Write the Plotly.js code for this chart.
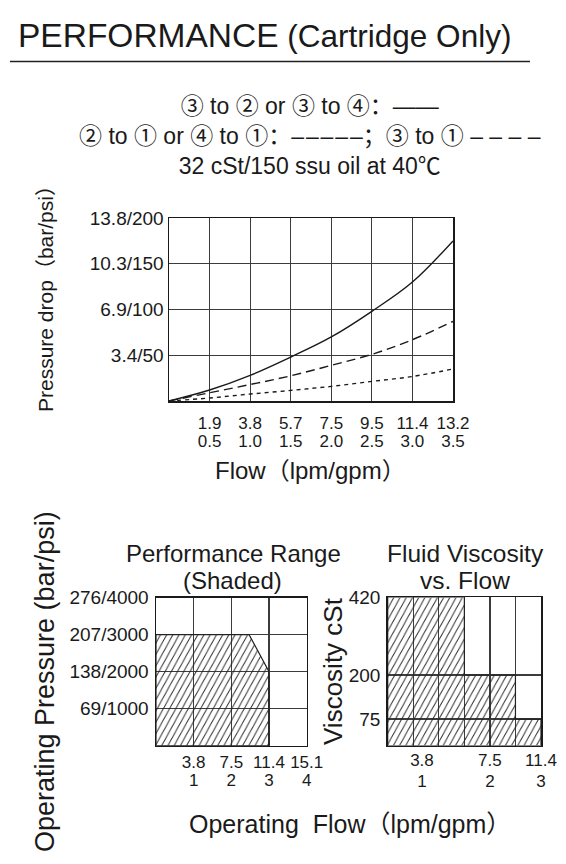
<!DOCTYPE html>
<html><head><meta charset="utf-8">
<script src="https://cdn.plot.ly/plotly-3.0.1.min.js"></script>
<style>html,body{margin:0;padding:0;background:#fff;}#chart{width:566px;height:864px;}</style>
</head><body><div id="chart"></div>
<script>
// ---------- data ----------
const flowGpm = [0, 0.5, 1.0, 1.5, 2.0, 2.5, 3.0, 3.5];
const dropSolid = [0, 12, 28, 48, 70, 98, 130, 175];          // 3 to 2 or 3 to 4
const dropLongDash = [0, 9, 18, 27.5, 39, 51, 67, 87];        // 2 to 1 or 4 to 1
const dropShortDash = [0, 3.3, 7.6, 11.6, 16, 21.4, 26.8, 35]; // 3 to 1
const topTickGpm = [0.5, 1.0, 1.5, 2.0, 2.5, 3.0, 3.5];
const topTickLpm = ['1.9', '3.8', '5.7', '7.5', '9.5', '11.4', '13.2'];
const topTickGpmText = ['0.5', '1.0', '1.5', '2.0', '2.5', '3.0', '3.5'];
const dropTickPsi = [50, 100, 150, 200];
const dropTickText = ['3.4/50', '6.9/100', '10.3/150', '13.8/200'];

const rangeFlowGpm = [0, 0, 2.47, 3, 3, 0];
const rangePressurePsi = [0, 3000, 3000, 2000, 0, 0];
const rangeTickGpm = [1, 2, 3, 4];
const rangeTickLpm = ['3.8', '7.5', '11.4', '15.1'];
const rangeTickGpmText = ['1', '2', '3', '4'];
const pressTickPsi = [1000, 2000, 3000, 4000];
const pressTickText = ['69/1000', '138/2000', '207/3000', '276/4000'];

const viscFlowGpm = [0, 0, 1.5, 1.5, 2.5, 2.5, 3, 3, 0];
const viscCst = [0, 420, 420, 200, 200, 75, 75, 0, 0];
const viscGridGpm = [0.5, 1, 1.5, 2, 2.5, 3];
const viscTickGpm = [0.67, 2, 3];
const viscTickLpm = ['3.8', '7.5', '11.4'];
const viscTickGpmText = ['1', '2', '3'];
const viscTickCst = [75, 200, 420];

// ---------- layout helpers ----------
const W = 566, H = 864;
const px = v => v / W;
const py = v => 1 - v / H;
const FONT = '"Liberation Sans", Arial, "DejaVu Sans", "Noto Sans CJK SC", sans-serif';
const INK = '#1a1a1a';
const GRID = '#3c3c3c';
const YTICK = 19, XTICK = 17;
const cj = s => '<span style="font-family:Noto Sans CJK SC">' + s + '</span>';

function gridAxis(dom, range, tickvals, ticktext, anchor, standoff, size, extra) {
  return Object.assign({
    domain: dom, range: range, anchor: anchor,
    tickmode: 'array', tickvals: tickvals, ticktext: ticktext, tickangle: 0,
    showgrid: true, gridcolor: GRID, gridwidth: 1.2,
    showline: true, linecolor: INK, linewidth: 1.5, mirror: true,
    zeroline: false, ticks: '', fixedrange: true,
    tickfont: {family: FONT, size: size, color: INK},
    ticklabelstandoff: standoff
  }, extra || {});
}
function labelAxis(over, range, tickvals, ticktext, anchor, standoff) {
  return {
    overlaying: over, range: range, anchor: anchor, side: 'bottom',
    tickmode: 'array', tickvals: tickvals, ticktext: ticktext, tickangle: 0,
    showgrid: false, showline: false, zeroline: false, ticks: '', fixedrange: true,
    tickfont: {family: FONT, size: XTICK, color: INK},
    ticklabelstandoff: standoff
  };
}
// empty carrier so that an overlaid label axis gets drawn
const carrier = (xs, xa, ya) => ({x: xs, y: xs.map(() => null), xaxis: xa, yaxis: ya, mode: 'lines',
  hoverinfo: 'skip', line: {width: 0}});

const hatch = {shape: '/', size: 8, solidity: 0.17, fgcolor: '#222', bgcolor: 'rgba(0,0,0,0)', fillmode: 'replace'};

const data = [
  {x: flowGpm, y: dropSolid, xaxis: 'x', yaxis: 'y', mode: 'lines', cliponaxis: false,
   line: {color: INK, width: 1.4, shape: 'spline'}, hoverinfo: 'skip'},
  {x: flowGpm, y: dropLongDash, xaxis: 'x', yaxis: 'y', mode: 'lines', cliponaxis: false,
   line: {color: INK, width: 1.4, shape: 'spline', dash: '9px,5px'}, hoverinfo: 'skip'},
  {x: flowGpm, y: dropShortDash, xaxis: 'x', yaxis: 'y', mode: 'lines', cliponaxis: false,
   line: {color: INK, width: 1.4, shape: 'spline', dash: '4px,4px'}, hoverinfo: 'skip'},
  {x: rangeFlowGpm, y: rangePressurePsi, xaxis: 'x3', yaxis: 'y2', mode: 'lines', fill: 'toself',
   fillcolor: 'rgba(0,0,0,0)', fillpattern: hatch, cliponaxis: false,
   line: {color: '#222', width: 1.2}, hoverinfo: 'skip'},
  {x: viscFlowGpm, y: viscCst, xaxis: 'x5', yaxis: 'y3', mode: 'lines', fill: 'toself',
   fillcolor: 'rgba(0,0,0,0)', fillpattern: hatch, cliponaxis: false,
   line: {color: '#222', width: 1.2}, hoverinfo: 'skip'},
  carrier(topTickGpm, 'x2', 'y'),
  carrier(rangeTickGpm, 'x4', 'y2'),
  carrier(viscTickGpm, 'x6', 'y3'),
  carrier(viscTickGpm, 'x7', 'y3')
];

const topX = [px(169), px(453)], topY = [py(401), py(218)];
const blX = [px(156), px(306.7)], blY = [py(745.7), py(597.6)];
const brX = [px(387.7), px(541)], brY = [py(745.5), py(597.4)];

const legendText =
  cj('③') + ' to ' + cj('②') + ' or ' + cj('③') + ' to ' + cj('④') + '：——<br>' +
  cj('②') + ' to ' + cj('①') + ' or ' + cj('④') + ' to ' + cj('①') + '：–\u200A–\u200A–\u200A–\u200A–；' +
  cj('③') + ' to ' + cj('①') + ' –\u00A0–\u00A0–\u00A0–<br>' +
  '32 cSt/150 ssu oil at 40' + cj('℃');

const layout = {
  width: W, height: H, margin: {l: 0, r: 0, t: 0, b: 0},
  paper_bgcolor: '#fff', plot_bgcolor: 'rgba(0,0,0,0)', showlegend: false,
  font: {family: FONT, color: INK},
  xaxis: gridAxis(topX, [0, 3.5], topTickGpm, topTickLpm, 'y', 6, XTICK),
  xaxis2: labelAxis('x', [0, 3.5], topTickGpm, topTickGpmText, 'y', 28),
  yaxis: gridAxis(topY, [0, 200], dropTickPsi, dropTickText, 'x', 0, YTICK),
  xaxis3: gridAxis(blX, [0, 4], rangeTickGpm, rangeTickLpm, 'y2', 0, XTICK),
  xaxis4: labelAxis('x3', [0, 4], rangeTickGpm, rangeTickGpmText, 'y2', 22),
  yaxis2: gridAxis(blY, [0, 4000], pressTickPsi, pressTickText, 'x3', 2, YTICK),
  xaxis5: gridAxis(brX, [0, 3], viscGridGpm, viscGridGpm.map(() => ''), 'y3', 1, XTICK, {showticklabels: false}),
  xaxis6: labelAxis('x5', [0, 3], viscTickGpm, viscTickLpm, 'y3', 2),
  xaxis7: labelAxis('x5', [0, 3], viscTickGpm, viscTickGpmText, 'y3', 23),
  yaxis3: gridAxis(brY, [0, 420], viscTickCst, viscTickCst.map(String), 'x5', 2, YTICK),
  shapes: [
    {type: 'line', xref: 'paper', yref: 'paper', x0: px(10), x1: px(530), y0: py(61.5), y1: py(61.5),
     line: {color: '#222', width: 1.5}}
  ],
  annotations: [
    {text: '<span style="font-size:33.5px">PERFORMANCE</span> (Cartridge Only)', xref: 'paper', yref: 'paper',
     x: px(16), y: py(36), xanchor: 'left', yanchor: 'middle', showarrow: false,
     font: {family: FONT, size: 31.5, color: INK}},
    {text: legendText, xref: 'paper', yref: 'paper', x: px(310), y: py(134), align: 'center',
     xanchor: 'center', yanchor: 'middle', showarrow: false, font: {family: FONT, size: 23, color: INK}},
    {text: 'Pressure drop（bar/psi）', xref: 'paper', yref: 'paper', x: px(45), y: py(294), textangle: -90,
     xanchor: 'center', yanchor: 'middle', showarrow: false, font: {family: FONT, size: 21, color: INK}},
    {text: 'Flow（lpm/gpm）', xref: 'paper', yref: 'paper', x: px(310), y: py(471),
     xanchor: 'center', yanchor: 'middle', showarrow: false, font: {family: FONT, size: 24, color: INK}},
    {text: 'Performance Range', xref: 'paper', yref: 'paper', x: px(233), y: py(553),
     xanchor: 'center', yanchor: 'middle', showarrow: false, font: {family: FONT, size: 24, color: INK}},
    {text: '(Shaded)', xref: 'paper', yref: 'paper', x: px(232), y: py(580),
     xanchor: 'center', yanchor: 'middle', showarrow: false, font: {family: FONT, size: 24, color: INK}},
    {text: 'Fluid Viscosity', xref: 'paper', yref: 'paper', x: px(465), y: py(553),
     xanchor: 'center', yanchor: 'middle', showarrow: false, font: {family: FONT, size: 24.5, color: INK}},
    {text: 'vs. Flow', xref: 'paper', yref: 'paper', x: px(465), y: py(580),
     xanchor: 'center', yanchor: 'middle', showarrow: false, font: {family: FONT, size: 24.5, color: INK}},
    {text: 'Operating Pressure (bar/psi)', xref: 'paper', yref: 'paper', x: px(45), y: py(682), textangle: -90,
     xanchor: 'center', yanchor: 'middle', showarrow: false, font: {family: FONT, size: 27, color: INK}},
    {text: 'Viscosity cSt', xref: 'paper', yref: 'paper', x: px(333), y: py(671), textangle: -90,
     xanchor: 'center', yanchor: 'middle', showarrow: false, font: {family: FONT, size: 26, color: INK}},
    {text: 'Operating\u00A0 Flow（lpm/gpm）', xref: 'paper', yref: 'paper', x: px(350), y: py(824),
     xanchor: 'center', yanchor: 'middle', showarrow: false, font: {family: FONT, size: 25, color: INK}}
  ]
};

Plotly.newPlot('chart', data, layout, {staticPlot: true, displayModeBar: false}).then(gd => {
  gd.querySelectorAll('pattern').forEach(p => p.setAttribute('patternTransform', 'scale(0.55,1)'));
});
</script>
</body></html>
